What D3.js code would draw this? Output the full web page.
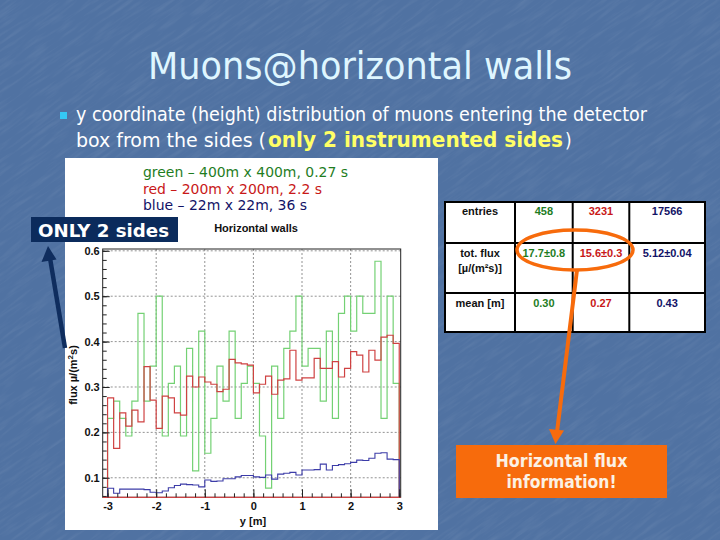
<!DOCTYPE html>
<html><head><meta charset="utf-8">
<script src="https://cdn.jsdelivr.net/npm/d3@7"></script>
<style>html,body{margin:0;padding:0;background:#4f71a1;}svg{display:block;}</style>
</head><body>
<svg id="slide" width="720" height="540"></svg>
<script>
// ---------- data ----------
const binStart = -3, binWidth = 0.125;
const greenVals = [0.231,0.269,0.231,0.192,0.269,0.462,0.269,0.346,0.500,0.192,0.308,0.346,0.192,0.385,0.115,0.423,0.154,0.231,0.346,0.269,0.423,0.231,0.308,0.346,0.308,0.192,0.077,0.346,0.231,0.385,0.423,0.500,0.346,0.385,0.385,0.269,0.423,0.231,0.462,0.500,0.423,0.500,0.462,0.462,0.577,0.231,0.500,0.308];
const redVals = [0.276,0.165,0.243,0.214,0.249,0.223,0.345,0.271,0.209,0.280,0.276,0.243,0.238,0.324,0.300,0.322,0.311,0.306,0.290,0.295,0.361,0.353,0.351,0.348,0.287,0.306,0.324,0.284,0.315,0.318,0.381,0.315,0.320,0.320,0.363,0.341,0.341,0.356,0.322,0.341,0.378,0.370,0.333,0.381,0.359,0.410,0.414,0.396];
const blueVals = [0.077,0.066,0.075,0.075,0.075,0.075,0.074,0.068,0.067,0.071,0.078,0.083,0.086,0.085,0.084,0.080,0.095,0.092,0.093,0.098,0.098,0.102,0.105,0.105,0.102,0.101,0.106,0.097,0.108,0.110,0.112,0.106,0.117,0.117,0.118,0.130,0.117,0.127,0.129,0.131,0.134,0.139,0.138,0.143,0.154,0.155,0.141,0.140];
const xTicks = [-3,-2,-1,0,1,2,3];
const yTicks = [0.1,0.2,0.3,0.4,0.5,0.6];
const legendLines = ["green \u2013 400m x 400m, 0.27 s","red \u2013 200m x 200m, 2.2 s","blue \u2013 22m x 22m, 36 s"];
const tableRowLabels = [["entries"],["tot. flux","[\u00b5/(m\u00b2s)]"],["mean [m]"]];
const tableGreen = ["458","17.7\u00b10.8","0.30"];
const tableRed = ["3231","15.6\u00b10.3","0.27"];
const tableBlue = ["17566","5.12\u00b10.04","0.43"];

// ---------- styles ----------
const cGreen = "#74d174", cRed = "#cf4242", cBlue = "#3c3ca8";
const tGreen = "#1f7d1f", tRed = "#c81818", tBlue = "#121266";
const orange = "#f76b0c";
const svg = d3.select("#slide");

// background with texture
const defs = svg.append("defs");
const f = defs.append("filter").attr("id","tex").attr("x",0).attr("y",0).attr("width","100%").attr("height","100%");
f.append("feTurbulence").attr("type","fractalNoise").attr("baseFrequency","0.03 0.3").attr("numOctaves",3).attr("seed",7).attr("result","n");
f.append("feColorMatrix").attr("in","n").attr("type","matrix")
 .attr("values","0 0 0 0 1  0 0 0 0 1  0 0 0 0 1  0 0 0 0.9 -0.4");
svg.append("rect").attr("width",720).attr("height",540).attr("fill","#5072a2");
svg.append("rect").attr("x",-200).attr("y",-200).attr("width",1120).attr("height",940).attr("filter","url(#tex)").attr("opacity",0.16)
  .attr("transform","rotate(-35 360 270)");
const sansSlide = "'DejaVu Sans Condensed','DejaVu Sans',sans-serif";

// title
svg.append("text").attr("x",360).attr("y",79).attr("text-anchor","middle")
  .attr("font-family",sansSlide).attr("font-size",37).attr("fill","#dff6ff")
  .attr("textLength",424).attr("lengthAdjust","spacingAndGlyphs").text("Muons@horizontal walls");

// bullet
svg.append("rect").attr("x",60).attr("y",112).attr("width",7).attr("height",7).attr("fill","#35c8f5");
svg.append("text").attr("x",76).attr("y",121).attr("font-family",sansSlide).attr("font-size",19).attr("fill","#ffffff")
  .attr("textLength",571).attr("lengthAdjust","spacingAndGlyphs")
  .text("y coordinate (height) distribution of muons entering the detector");
svg.append("text").attr("x",76).attr("y",147).attr("font-family",sansSlide).attr("font-size",19).attr("fill","#ffffff")
  .attr("textLength",190).attr("lengthAdjust","spacingAndGlyphs").text("box from the sides (");
svg.append("text").attr("x",268).attr("y",147).attr("font-family",sansSlide).attr("font-size",22).attr("font-weight","bold").attr("fill","#ffff66")
  .attr("textLength",295).attr("lengthAdjust","spacingAndGlyphs").text("only 2 instrumented sides");
svg.append("text").attr("x",565).attr("y",147).attr("font-family",sansSlide).attr("font-size",19).attr("fill","#ffffff").text(")");

// white picture panel
svg.append("rect").attr("x",65).attr("y",158).attr("width",373).attr("height",372).attr("fill","#ffffff");

// legend text
const legColors = [tGreen,tRed,tBlue];
const legW = [205,179,164];
legendLines.forEach((t,i)=>{
  svg.append("text").attr("x",143).attr("y",177+i*16.5).attr("font-family",sansSlide).attr("font-size",14)
   .attr("fill",legColors[i]).attr("textLength",legW[i]).attr("lengthAdjust","spacingAndGlyphs").text(t);
});

// ---------- chart ----------
const L=102.7, R=400.7, T=249, B=497.3;
const x = d3.scaleLinear().domain([-3.1,3.03]).range([L,R]);
const y = d3.scaleLinear().domain([0.057,0.604]).range([B,T]);
const rootFont = "'Liberation Sans',Arial,sans-serif";
const g = svg.append("g");

svg.append("text").attr("x",256).attr("y",232).attr("text-anchor","middle").attr("font-family",rootFont)
  .attr("font-size",11).attr("font-weight","bold").attr("fill","#111").text("Horizontal walls");

// grid
const gridX = [-2,-1,0,1,2], gridY=[0.1,0.2,0.3,0.4,0.5,0.6];
g.selectAll("line.gx").data(gridX).join("line").attr("x1",d=>x(d)).attr("x2",d=>x(d)).attr("y1",T).attr("y2",B)
  .attr("stroke","#777").attr("stroke-width",0.8).attr("stroke-dasharray","2,2");
g.selectAll("line.gy").data(gridY).join("line").attr("y1",d=>y(d)).attr("y2",d=>y(d)).attr("x1",L).attr("x2",R)
  .attr("stroke","#777").attr("stroke-width",0.8).attr("stroke-dasharray","2,2");

// histograms
defs.append("clipPath").attr("id","pc").append("rect").attr("x",L).attr("y",T).attr("width",R-L).attr("height",B-T);
function stepPts(vals){
  const ymin = y.domain()[0];
  const pts = [[binStart, ymin]];
  vals.forEach((v,i)=>{ pts.push([binStart+i*binWidth, v]); pts.push([binStart+(i+1)*binWidth, v]); });
  pts.push([binStart+vals.length*binWidth, ymin]);
  return pts;
}
const line = d3.line().x(d=>x(d[0])).y(d=>y(d[1]));
const hg = g.append("g").attr("clip-path","url(#pc)");
[[greenVals,cGreen,1.2],[redVals,cRed,1.2],[blueVals,cBlue,1.1]].forEach(([v,c,w])=>{
  hg.append("path").attr("d",line(stepPts(v))).attr("fill","none").attr("stroke",c).attr("stroke-width",w);
});

// frame
g.append("rect").attr("x",L).attr("y",T).attr("width",R-L).attr("height",B-T).attr("fill","none").attr("stroke","#222").attr("stroke-width",1);
g.append("line").attr("x1",L).attr("x2",R).attr("y1",B).attr("y2",B).attr("stroke",cRed).attr("stroke-width",1.3);

// axes
const minorX = d3.range(-30,31,2).map(d=>d/10);
const minorY = d3.range(6,61,2).map(d=>d/100);
const ax = g.append("g").attr("transform",`translate(0,${B})`)
  .call(d3.axisBottom(x).tickValues(xTicks).tickSize(-8).tickPadding(5).tickFormat(d=>String(d)));
const axm = g.append("g").attr("transform",`translate(0,${B})`)
  .call(d3.axisBottom(x).tickValues(minorX).tickSize(-4).tickFormat(""));
const ay = g.append("g").attr("transform",`translate(${L},0)`)
  .call(d3.axisLeft(y).tickValues(yTicks).tickSize(-7).tickPadding(3).tickFormat(d3.format(".1f")));
const aym = g.append("g").attr("transform",`translate(${L},0)`)
  .call(d3.axisLeft(y).tickValues(minorY).tickSize(-4).tickFormat(""));
[ax,axm,ay,aym].forEach(a=>{a.select(".domain").remove(); a.selectAll("line").attr("stroke","#222");
  a.selectAll("text").attr("font-family",rootFont).attr("font-size",11).attr("font-weight","bold").attr("fill","#111");});

svg.append("text").attr("x",253).attr("y",525).attr("text-anchor","middle").attr("font-family",rootFont)
  .attr("font-size",11).attr("font-weight","bold").attr("fill","#111").text("y [m]");
const yt = svg.append("text").attr("transform","translate(77,375) rotate(-90)").attr("text-anchor","middle")
  .attr("font-family",rootFont).attr("font-size",11).attr("font-weight","bold").attr("fill","#111");
yt.append("tspan").text("flux \u00b5/(m");
yt.append("tspan").attr("dy",-4).attr("font-size",8).text("2");
yt.append("tspan").attr("dy",4).text("s)");

// ONLY 2 sides label + arrow
svg.append("rect").attr("x",31).attr("y",217).attr("width",147).attr("height",25).attr("fill","#0b2b5c");
svg.append("text").attr("x",38).attr("y",237).attr("font-family",sansSlide).attr("font-size",18).attr("font-weight","bold")
  .attr("fill","#ffffff").attr("textLength",131).attr("lengthAdjust","spacingAndGlyphs").text("ONLY 2 sides");
svg.append("line").attr("x1",65).attr("y1",348).attr("x2",50).attr("y2",258).attr("stroke","#0f2d5e").attr("stroke-width",4.5);
svg.append("path").attr("d","M48,246 L41.5,262 L56.5,259.5 Z").attr("fill","#0f2d5e");

// ---------- table ----------
const colX = [445,515,572.7,629.3,705];
const rowY = [202,243,293,332];
const tg = svg.append("g");
tg.append("rect").attr("x",colX[0]).attr("y",rowY[0]).attr("width",colX[4]-colX[0]).attr("height",rowY[3]-rowY[0]).attr("fill","#ffffff");
colX.forEach(cx=>tg.append("line").attr("x1",cx).attr("x2",cx).attr("y1",rowY[0]).attr("y2",rowY[3]).attr("stroke","#000").attr("stroke-width",2));
rowY.forEach(ry=>tg.append("line").attr("y1",ry).attr("y2",ry).attr("x1",colX[0]-1).attr("x2",colX[4]+1).attr("stroke","#000").attr("stroke-width",2));
const baseY = [215,257,307];
tableRowLabels.forEach((lab,r)=>{
  lab.forEach((t,k)=>tg.append("text").attr("x",(colX[0]+colX[1])/2).attr("y",baseY[r]+k*15).attr("text-anchor","middle")
    .attr("font-family",rootFont).attr("font-size",11).attr("font-weight","bold").attr("fill","#111").text(t));
});
[[tableGreen,tGreen],[tableRed,tRed],[tableBlue,tBlue]].forEach(([vals,c],j)=>{
  vals.forEach((t,r)=>tg.append("text").attr("x",(colX[j+1]+colX[j+2])/2).attr("y",baseY[r]).attr("text-anchor","middle")
    .attr("font-family",rootFont).attr("font-size",11).attr("font-weight","bold").attr("fill",c).text(t));
});

// orange ellipse, arrow, box
svg.append("ellipse").attr("cx",575).attr("cy",250).attr("rx",58).attr("ry",20).attr("fill","none").attr("stroke",orange).attr("stroke-width",3.5);
svg.append("line").attr("x1",577).attr("y1",270).attr("x2",557).attr("y2",432).attr("stroke",orange).attr("stroke-width",4);
svg.append("path").attr("d","M555.5,444 L549,429 L564,430.5 Z").attr("fill",orange);
svg.append("rect").attr("x",456).attr("y",445).attr("width",211).attr("height",53).attr("fill",orange);
svg.append("text").attr("x",561.5).attr("y",467).attr("text-anchor","middle").attr("font-family",sansSlide).attr("font-size",17)
  .attr("font-weight","bold").attr("fill","#fbf1e4").attr("textLength",132).attr("lengthAdjust","spacingAndGlyphs").text("Horizontal flux");
svg.append("text").attr("x",561.5).attr("y",488).attr("text-anchor","middle").attr("font-family",sansSlide).attr("font-size",17)
  .attr("font-weight","bold").attr("fill","#fbf1e4").attr("textLength",110).attr("lengthAdjust","spacingAndGlyphs").text("information!");
</script>
</body></html>
